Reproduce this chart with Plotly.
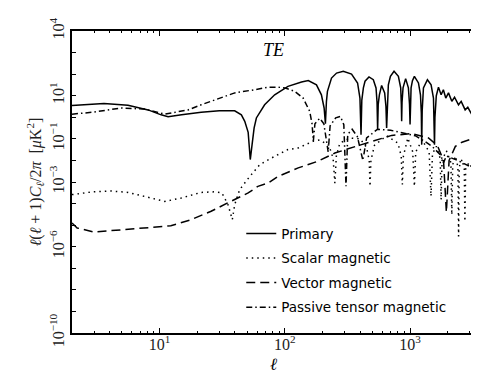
import plotly.graph_objects as go

# multipole l and l(l+1)C_l/2pi values [muK^2]
ell_primary = [2, 2.7, 3.6, 5.6, 8.1, 10.3, 11.7, 15, 21.5, 30, 35, 39.8, 45, 47.9, 51, 53,
               54.8, 56.9, 59.3, 69, 83, 106, 136, 154, 179, 196, 206, 211, 215, 219, 236,
               259, 293, 341, 381, 398, 406, 412, 424, 437, 470, 509, 535, 545, 551, 557,
               569, 593, 627, 642, 650, 658, 671, 697, 745, 807, 842, 852, 857, 863, 879,
               922, 970, 990, 1000, 1008, 1019, 1045, 1083, 1167, 1211, 1230, 1239, 1250,
               1279, 1376, 1472, 1538, 1560, 1567, 1580, 1620, 1686, 1770, 1845, 1928, 2027,
               2155, 2265, 2437, 2560, 2754, 2891, 3100, 3300]
cl_primary = [3.5, 3.8, 4.3, 3.6, 2.2, 1.3, 1.07, 1.3, 1.7, 2.0, 2.05, 2.0, 1.3, 0.65, 0.2, 0.011,
              0.054, 0.32, 0.93, 3.8, 11, 27, 43, 50, 32, 11, 2.7, 0.5, 5.5, 16, 66,
              112, 135, 100, 39, 7.8, 0.155, 6.3, 23, 47, 74, 55, 23, 5, 0.27, 4,
              11, 30, 13.5, 3.2, 0.32, 6.3, 32, 79, 135, 79, 23, 4, 0.65, 5, 23,
              62, 23, 4, 0.46, 4, 23, 50, 79, 39, 11, 1.6, 0.054, 2,
              23, 55, 32, 7.8, 0.63, 0.054, 1, 10, 25, 11, 19, 7.8, 13.5,
              5.5, 8.5, 3.8, 5.5, 2.2, 2.9, 1.4, 0.93]

ell_scalar = [2, 2.9, 4.1, 5.6, 8.1, 11, 14.9, 21.5, 27.5, 31.5, 35.2, 38.1, 39.8, 43.6, 52.5,
              63, 73.6, 88, 106, 128, 154, 169, 190, 225, 243, 251, 258, 275, 330, 400, 450,
              472, 479, 487, 520, 650, 800, 850, 868, 885, 960, 1050, 1083, 1110, 1250, 1420,
              1470, 1510, 1620, 1740, 1770, 1800, 1950, 2120, 2155, 2190, 2300, 2410, 2440,
              2470, 2600, 2710, 2740, 2780, 2950, 3300]
cl_scalar = [2.6e-4, 3.5e-4, 3.8e-4, 3.3e-4, 1.95e-4, 1.26e-4, 1.8e-4, 3.3e-4, 3.5e-4, 3.1e-4,
             8.9e-5, 1.8e-5, 8.9e-5, 4.4e-4, 1.8e-3, 6.3e-3, 1.07e-2, 1.8e-2, 3.2e-2, 3.8e-2,
             6.5e-2, 7.8e-2, 8.9e-2, 5e-2, 1.26e-2, 8.9e-4, 1.6e-2, 6.3e-2, 0.11, 0.1, 4e-2,
             1e-2, 6.3e-4, 1e-2, 5e-2, 0.14, 6.3e-2, 1.6e-2, 7.6e-4, 1.6e-2, 0.11, 2.5e-2,
             6.3e-4, 2.5e-2, 8.9e-2, 2.5e-2, 2.2e-4, 2e-2, 4.5e-2, 1.26e-2, 1.5e-4, 1e-2,
             2.8e-2, 7.9e-3, 3e-5, 6.3e-3, 1.6e-2, 5e-3, 3e-6, 5e-3, 1.1e-2, 4e-3, 1.5e-5,
             4e-3, 7.9e-3, 2.5e-3]

ell_vector = [2, 2.2, 3.0, 4.7, 9.6, 12.3, 17.9, 25.8, 37, 51, 61, 73.6, 88, 128, 183, 251,
              370, 543, 713, 1030, 1402, 1650, 1850, 1950, 2050, 2300, 2600, 3300]
cl_vector = [1.26e-5, 7.4e-6, 4.8e-6, 5.9e-6, 7.9e-6, 9.3e-6, 1.8e-5, 4.4e-5, 1.26e-4, 3.1e-4,
             6.3e-4, 8.9e-4, 1.8e-3, 4.5e-3, 9.1e-3, 2.2e-2, 4.5e-2, 8.5e-2, 0.145, 0.174,
             0.11, 5e-2, 1e-2, 4e-5, 1e-2, 4.5e-2, 7e-2, 0.11]

ell_tensor = [2, 3.0, 4.9, 7.6, 11, 16.9, 21.5, 31, 39.8, 57.5, 73.6, 88, 100, 120, 140, 158,
              165, 169, 174, 190, 205, 222, 230, 255, 278, 296, 308, 318, 345, 380, 420, 450,
              550, 700, 900, 1100, 1300, 1500, 1750, 1850, 1950, 2400, 3300]
cl_tensor = [1.4, 1.74, 2.7, 2.4, 1.4, 2.2, 3.8, 7.8, 13.5, 19, 25, 25, 23, 16, 7.8, 1.9,
             0.5, 0.08, 0.5, 0.9, 0.5, 0.025, 0.4, 0.95, 1.1, 0.45, 6.3e-4, 0.16, 0.28, 0.126,
             1e-2, 0.11, 0.28, 0.25, 0.18, 0.14, 7.9e-2, 4.5e-2, 1.8e-2, 7.9e-3, 1.6e-2, 1e-2,
             4e-3]

series = [
    ("Primary", ell_primary, cl_primary, "solid"),
    ("Scalar magnetic", ell_scalar, cl_scalar, "1.5px,4px"),
    ("Vector magnetic", ell_vector, cl_vector, "9px,5px"),
    ("Passive tensor magnetic", ell_tensor, cl_tensor, "6px,3px,1.5px,3px"),
]

ytick_vals = [10.0 ** k for k in range(-10, 5)]
ytick_labels = {4: "10<sup>4</sup>", 1: "10<sup>1</sup>", -1: "10<sup>\u22121</sup>",
                -3: "10<sup>\u22123</sup>", -6: "10<sup>\u22126</sup>", -10: "10<sup>\u221210</sup>"}
ytick_text = [ytick_labels.get(k, "") for k in range(-10, 5)]

xtick_vals = [10, 100, 1000]
xtick_text = ["10<sup>1</sup>", "10<sup>2</sup>", "10<sup>3</sup>"]
xminor_vals = [m * d for d in (1, 10, 100, 1000) for m in range(2, 10) if m * d <= 3300]

fig = go.Figure()
for i, (nome, ell, cl, dash) in enumerate(series):
    fig.add_trace(go.Scatter(
        x=ell, y=cl, name=nome, mode="lines", legendgroup=str(i),
        line=dict(color="black", width=1.5, dash=dash),
    ))

serif = "Liberation Serif"
fig.update_layout(
    template="none",
    width=479, height=388,
    margin=dict(l=64, r=12, t=23, b=63, autoexpand=False),
    plot_bgcolor="white", paper_bgcolor="white",
    showlegend=True,
    legend=dict(x=0.42, y=0.38, xanchor="left", yanchor="top",
                bgcolor="rgba(0,0,0,0)", tracegroupgap=4,
                font=dict(family="DejaVu Sans", size=13.5, color="black")),
    annotations=[dict(text="<i>TE</i>", x=0.5, y=0.937, xref="paper", yref="paper",
                      xanchor="center", yanchor="middle",
                      showarrow=False, font=dict(family=serif, size=18, color="black"))],
)
fig.update_xaxes(
    type="log", range=[0.30103, 3.5185], automargin=False,
    tickvals=xtick_vals, ticktext=xtick_text,
    ticks="inside", ticklen=5, tickwidth=1, tickcolor="black",
    minor=dict(tickvals=xminor_vals, ticks="inside", ticklen=2.5, tickcolor="black"),
    showline=True, linewidth=1.5, linecolor="black", mirror="allticks",
    showgrid=False, zeroline=False, ticklabelstandoff=-4,
    tickfont=dict(family=serif, size=16, color="#222"),
    title=dict(text="<i>\u2113</i>", font=dict(family=serif, size=17, color="black"), standoff=6),
)
fig.update_yaxes(
    type="log", range=[-10, 4], automargin=False,
    tickvals=ytick_vals, ticktext=ytick_text, tickangle=-90,
    ticks="inside", ticklen=4, tickwidth=1, tickcolor="black",
    showline=True, linewidth=1.5, linecolor="black", mirror="allticks",
    showgrid=False, zeroline=False,
    tickfont=dict(family=serif, size=16, color="#222"),
    title=dict(text="<i>\u2113</i>(<i>\u2113</i> + 1)<i>C<sub>\u2113</sub></i>/2<i>\u03c0</i>  [<i>\u03bc</i>K<sup>2</sup>]",
               font=dict(family=serif, size=16, color="#222"), standoff=2),
)

fig.write_html("out.html")
